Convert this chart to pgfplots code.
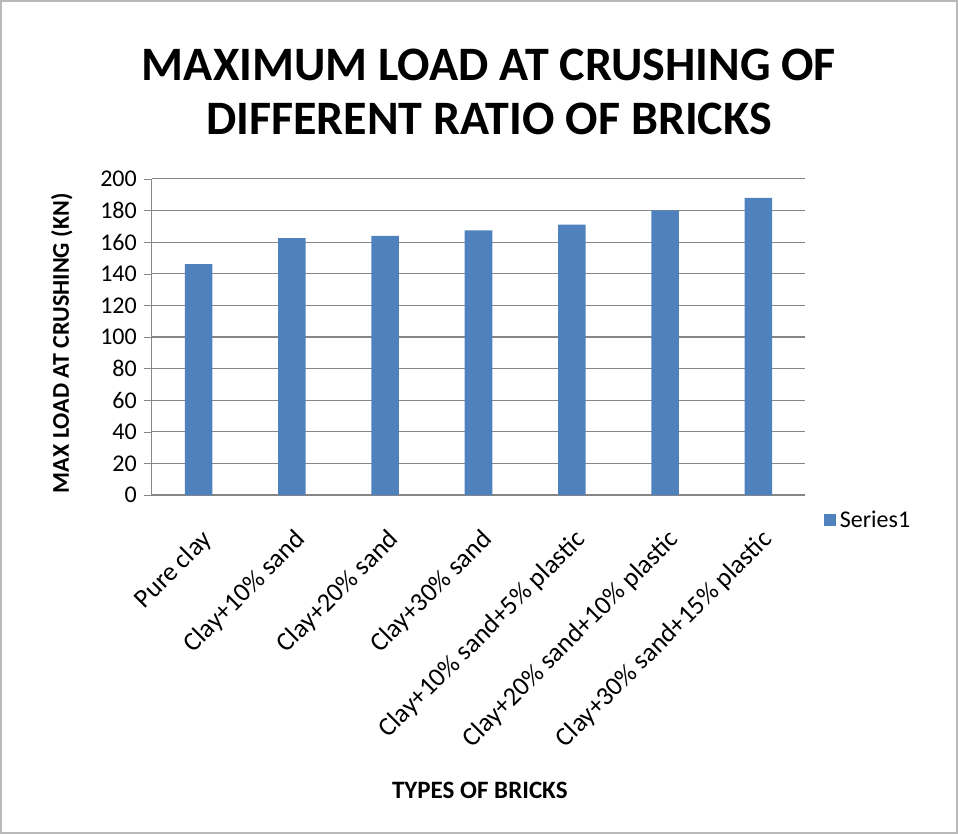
\documentclass[border=0pt]{standalone}
\usepackage{pgfplots}
\pgfplotsset{compat=1.18}
\usepackage{fontspec}
\setmainfont{Carlito}
\definecolor{barblue}{HTML}{4F81BD}
\definecolor{gridgray}{HTML}{868686}
\begin{document}
\begin{tikzpicture}
\draw[gray!55, line width=0.8pt] (0.5pt,-0.5pt) rectangle (478.5pt,-416.5pt);
\node[font=\bfseries\fontsize{24}{27}\selectfont, align=center] at (244.5pt,-46pt) {MAXIMUM LOAD AT CRUSHING OF\\DIFFERENT RATIO OF BRICKS};
\begin{axis}[
  at={(76pt,-247.5pt)}, anchor=south west,
  width=326.5pt, height=158pt, scale only axis,
  ymin=0, ymax=200, ytick={0,20,...,200},
  xmin=-0.5, xmax=6.5,
  xtick={0,...,6},
  major x tick style={draw=none},
  extra x ticks={-0.5,0.5,1.5,2.5,3.5,4.5,5.5,6.5},
  extra x tick labels={},
  extra x tick style={major tick length=4pt, tick align=outside, tick style={draw=gridgray}, grid=none},
  xticklabels={Pure clay,Clay+10\% sand,Clay+20\% sand,Clay+30\% sand,Clay+10\% sand+5\% plastic,Clay+20\% sand+10\% plastic,Clay+30\% sand+15\% plastic},
  xticklabel style={rotate=45, anchor=east, font=\fontsize{13.2}{14}\selectfont, inner sep=1pt, yshift=-15pt, xshift=-7pt},
  yticklabel style={font=\fontsize{12}{13}\selectfont},
  /pgf/number format/assume math mode=true,
  axis lines*=left, axis line style={draw=gridgray, -},
  ytick style={draw=gridgray}, tick align=outside, major tick length=4pt,
  ymajorgrids, grid style={draw=gridgray, line width=0.6pt},
  ylabel={MAX LOAD AT CRUSHING (KN)},
  ylabel style={font=\bfseries\fontsize{12}{13}\selectfont, at={(axis description cs:-0.138,0.48)}, anchor=center},
  xlabel={TYPES OF BRICKS},
  xlabel style={font=\bfseries\fontsize{12.5}{13}\selectfont, at={(axis description cs:0.502,-0.934)}, anchor=center},
  legend style={at={(rel axis cs:1.025,-0.08)}, anchor=west, draw=none, font=\fontsize{12}{13}\selectfont, inner sep=1pt},
  legend image code/.code={\fill[barblue] (0pt,-3pt) rectangle (6pt,3pt);},
]
\addplot[ybar, bar width=13.75pt, fill=barblue, draw=none] coordinates {(0,146) (1,162.5) (2,164) (3,167.5) (4,171) (5,180) (6,188)};
\addlegendentry{Series1}
\end{axis}
\end{tikzpicture}
\end{document}
